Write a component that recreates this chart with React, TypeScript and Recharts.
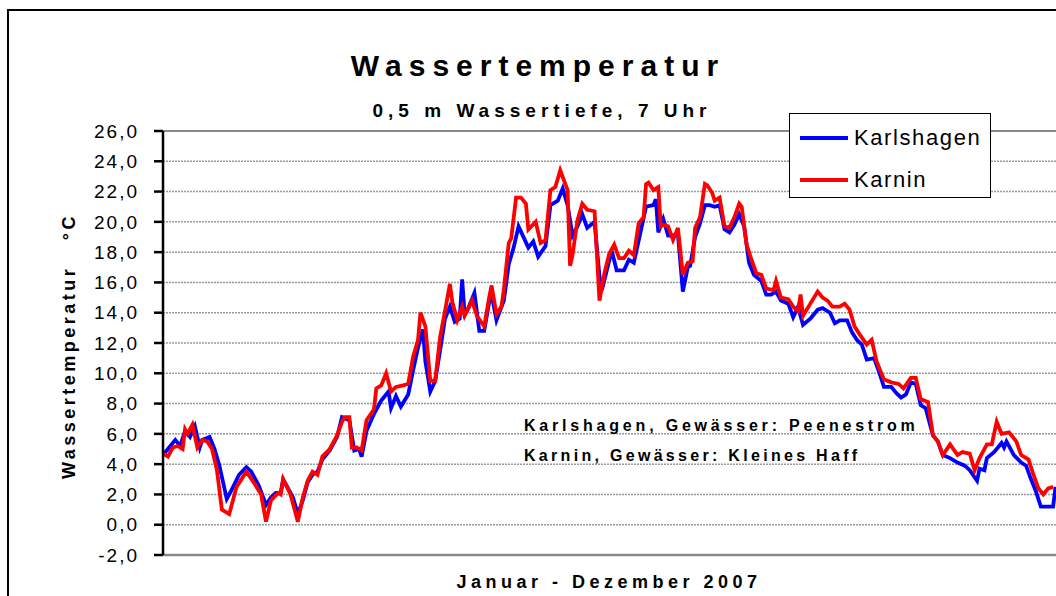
import { LineChart, Line, XAxis, YAxis, CartesianGrid, ReferenceLine } from 'recharts';

// Tag im Jahr (0 = 1. Januar) und Temperatur in °C
const karlshagenDays = [
  0, 2, 5, 7, 9, 11, 13, 15, 16, 19, 21, 23, 26, 28, 31, 34, 36, 39, 42, 44, 46, 48, 49, 51, 53, 55, 57, 59, 61, 63,
  65, 68, 71, 73, 76, 78, 80, 81, 83, 86, 89, 91, 92, 93, 95, 97, 100, 102, 104, 106, 107, 109, 111, 113, 115, 117,
  119, 121, 122, 123, 124, 127, 129, 131, 133, 134, 136, 139, 141, 143, 145, 149, 151, 153, 156, 158, 161, 163, 165,
  167, 169, 171, 173, 176, 178, 179, 181, 183, 185, 188, 190, 192, 195, 197, 200, 201, 202, 204, 206, 208, 210, 212,
  214, 215, 217, 219, 221, 223, 225, 227, 229, 231, 233, 235, 237, 239, 241, 244, 246, 248, 250, 252, 255, 257, 259,
  261, 264, 267, 269, 272, 274, 276, 279, 281, 283, 285, 287, 290, 292, 294, 297, 299, 301, 303, 305, 307, 309, 311,
  314, 316, 318, 321, 324, 327, 329, 332, 333, 335, 336, 339, 342, 343, 344, 347, 350, 352, 354, 356, 358, 361, 363, 364,
];
const karlshagenTemps = [
  4.6, 5.0, 5.6, 5.2, 6.2, 5.8, 6.5, 5.1, 5.6, 5.8, 5.0, 3.9, 1.7, 2.3, 3.3, 3.8, 3.5, 2.6, 1.3, 1.8, 2.1, 2.1, 3.0,
  2.4, 1.8, 0.7, 1.6, 2.8, 3.3, 3.5, 4.3, 4.9, 5.8, 7.1, 6.9, 4.9, 5.0, 4.5, 6.2, 7.3, 8.2, 8.6, 8.8, 7.7, 8.5, 7.8,
  8.6, 10.2, 11.7, 12.9, 10.8, 8.8, 9.5, 11.5, 13.6, 14.4, 13.4, 13.6, 16.2, 13.9, 14.1, 15.3, 12.8, 12.8, 14.7, 15.2,
  13.5, 14.8, 17.2, 18.3, 19.7, 18.3, 18.7, 17.7, 18.4, 21.1, 21.4, 22.2, 21.1, 19.1, 19.7, 20.5, 19.6, 20.0, 16.4,
  15.5, 16.8, 18.1, 16.8, 16.8, 17.5, 17.3, 19.5, 21.0, 21.1, 21.5, 19.3, 20.2, 19.1, 19.1, 19.2, 15.4, 17.0, 17.1,
  19.0, 19.9, 21.1, 21.1, 21.0, 21.1, 19.5, 19.3, 19.8, 20.5, 19.7, 17.3, 16.5, 16.1, 15.2, 15.2, 15.4, 14.8, 14.6,
  13.7, 14.4, 13.2, 13.6, 14.2, 14.3, 14.0, 13.3, 13.5, 13.5, 12.7, 12.2, 11.9, 10.9, 11.0, 10.1, 9.1, 9.1, 8.7, 8.4,
  8.6, 9.4, 9.3, 7.9, 7.7, 5.9, 5.5, 4.6, 4.4, 4.1, 3.9, 3.6, 2.9, 3.7, 3.6, 4.4, 4.8, 5.4, 5.1, 5.5, 4.6, 4.1, 3.9,
  3.0, 2.2, 1.2, 1.2, 1.2, 2.5,
];

const karninDays = [
  0, 2, 4, 6, 8, 9, 10, 12, 14, 16, 18, 20, 22, 24, 27, 28, 30, 34, 37, 40, 42, 44, 47, 48, 49, 52, 55, 57, 59, 61,
  63, 65, 68, 71, 73, 74, 76, 77, 79, 81, 83, 86, 87, 89, 91, 93, 95, 98, 100, 102, 104, 105, 107, 109, 111, 113, 115,
  117, 118, 120, 122, 123, 126, 128, 131, 133, 134, 136, 138, 139, 141, 142, 144, 146, 148, 149, 152, 154, 156, 158,
  160, 162, 165, 166, 167, 169, 171, 173, 176, 178, 180, 182, 184, 186, 188, 190, 192, 194, 196, 197, 198, 200, 202,
  203, 204, 206, 208, 210, 212, 214, 216, 217, 219, 221, 222, 224, 225, 227, 229, 231, 233, 235, 236, 238, 240, 242,
  244, 246, 249, 250, 252, 255, 257, 259, 260, 261, 264, 267, 269, 271, 273, 276, 278, 280, 282, 284, 287, 289, 291,
  294, 297, 300, 302, 305, 307, 309, 312, 314, 316, 318, 321, 324, 326, 329, 331, 333, 336, 338, 340, 342, 345, 348,
  350, 353, 355, 357, 359, 361, 363,
];
const karninTemps = [
  4.7, 4.5, 5.1, 5.2, 5.0, 6.3, 6.0, 6.6, 5.1, 5.6, 5.5, 5.0, 3.6, 1.0, 0.7, 1.3, 2.5, 3.5, 2.8, 2.0, 0.2, 1.6, 2.1,
  2.0, 3.0, 2.0, 0.2, 1.8, 2.9, 3.5, 3.3, 4.5, 5.0, 5.9, 6.8, 7.1, 7.1, 5.1, 5.1, 4.9, 6.9, 7.6, 9.0, 9.2, 10.0, 8.8,
  9.1, 9.2, 9.3, 11.1, 12.2, 14.0, 13.1, 9.5, 9.5, 12.4, 14.1, 15.9, 14.7, 13.5, 14.4, 13.8, 14.8, 13.8, 13.1, 15.0,
  15.8, 13.9, 14.4, 15.5, 18.6, 18.9, 21.6, 21.6, 21.2, 19.5, 20.0, 18.6, 18.8, 22.1, 22.3, 23.4, 22.1, 17.1, 17.8,
  20.1, 21.2, 20.8, 20.7, 14.8, 16.6, 17.9, 18.5, 17.6, 17.6, 18.1, 17.8, 19.9, 20.3, 22.5, 22.6, 22.1, 22.3, 19.7,
  19.8, 19.7, 18.8, 19.6, 16.5, 17.3, 17.4, 19.6, 20.3, 22.5, 22.4, 21.9, 21.4, 21.6, 19.7, 19.6, 20.3, 21.2, 21.0,
  18.5, 17.5, 16.6, 16.5, 15.6, 15.5, 16.1, 15.0, 14.9, 14.4, 14.1, 15.2, 13.8, 14.6, 15.4, 15.0, 14.8, 14.4, 14.4,
  14.6, 14.2, 13.1, 12.6, 11.9, 12.2, 10.8, 9.6, 9.4, 9.3, 9.0, 9.7, 9.7, 8.3, 8.1, 5.9, 5.5, 4.6, 5.3, 4.6, 4.8, 4.7,
  3.6, 4.4, 5.3, 5.3, 6.8, 6.0, 6.1, 5.5, 4.6, 4.3, 3.3, 2.4, 2.0, 2.4, 2.5,
];

const yTicks = [-2, 0, 2, 4, 6, 8, 10, 12, 14, 16, 18, 20, 22, 24, 26];

const karlshagen = karlshagenDays.map((day, i) => ({ day, t: karlshagenTemps[i] }));
const karnin = karninDays.map((day, i) => ({ day, t: karninTemps[i] }));

const series = [
  { name: 'Karlshagen', color: '#0000ff', data: karlshagen },
  { name: 'Karnin', color: '#ff0000', data: karnin },
];

const FONT = '"Liberation Sans", Arial, sans-serif';

const LegendBox = () => (
  <div
    style={{
      position: 'absolute',
      left: 789,
      top: 113,
      width: 202,
      height: 85,
      border: '1.5px solid #000',
      boxSizing: 'border-box',
      background: '#fff',
      fontFamily: FONT,
      fontSize: 22,
      letterSpacing: 1.6,
      color: '#000',
    }}
  >
    {series.map((s, i) => (
      <div key={s.name}>
        <div style={{ position: 'absolute', left: 10, top: 22 + i * 42, width: 48, height: 4, background: s.color }} />
        <div style={{ position: 'absolute', left: 64, top: 11 + i * 42, lineHeight: '26px' }}>{s.name}</div>
      </div>
    ))}
  </div>
);

export default function App() {
  return (
    <div style={{ position: 'absolute', left: 0, top: 0, width: 1056, height: 596, overflow: 'hidden', background: '#fff' }}>
      <div
        style={{
          position: 'absolute',
          left: 7,
          top: 9,
          width: 1200,
          height: 800,
          border: '2px solid #000',
          boxSizing: 'border-box',
        }}
      />
      <div style={{ position: 'absolute', left: 0, top: 0 }}>
        <LineChart width={1060} height={596} margin={{ top: 131, right: 2, bottom: 41, left: 0 }}>
          <CartesianGrid vertical={false} stroke="#999" strokeDasharray="2 1" strokeWidth={1.5} />
          <XAxis type="number" dataKey="day" domain={[0, 365]} hide allowDataOverflow />
          <YAxis
            type="number"
            domain={[-2, 26]}
            ticks={yTicks}
            interval={0}
            width={163}
            tickSize={9}
            tickMargin={15}
            axisLine={{ stroke: '#000', strokeWidth: 2.5 }}
            tickLine={{ stroke: '#000', strokeWidth: 2.5 }}
            tick={{ fill: '#000', fontSize: 19, fontFamily: FONT, letterSpacing: 2 }}
            tickFormatter={(v: number) => v.toFixed(1).replace('.', ',')}
          />
          <ReferenceLine y={26} stroke="#888" strokeWidth={2} />
          <ReferenceLine y={-2} stroke="#888" strokeWidth={2.5} />
          {series.map((s) => (
            <Line
              key={s.name}
              data={s.data}
              dataKey="t"
              name={s.name}
              stroke={s.color}
              strokeWidth={3.8}
              dot={false}
              isAnimationActive={false}
            />
          ))}
        </LineChart>
      </div>
      <LegendBox />
      <svg width={1056} height={596} style={{ position: 'absolute', left: 0, top: 0, pointerEvents: 'none' }}>
        <g fontFamily={FONT} fontWeight="bold" fill="#000">
          <text x={538} y={76} textAnchor="middle" fontSize={30} letterSpacing={7}>
            Wassertemperatur
          </text>
          <text x={542} y={117} textAnchor="middle" fontSize={19} letterSpacing={5}>
            0,5 m Wassertiefe, 7 Uhr
          </text>
          <text x={609} y={588} textAnchor="middle" fontSize={18} letterSpacing={4.5}>
            Januar - Dezember 2007
          </text>
          <text x={524} y={431} fontSize={16} letterSpacing={3.8}>
            Karlshagen, Gewässer: Peenestrom
          </text>
          <text x={524} y={461} fontSize={16} letterSpacing={3.3}>
            Karnin, Gewässer: Kleines Haff
          </text>
          <text
            x={0}
            y={0}
            transform="translate(75 346) rotate(-90)"
            textAnchor="middle"
            fontSize={18}
            letterSpacing={3.5}
            style={{ whiteSpace: 'pre' }}
          >
            {'Wassertemperatur   °C'}
          </text>
        </g>
      </svg>
    </div>
  );
}
